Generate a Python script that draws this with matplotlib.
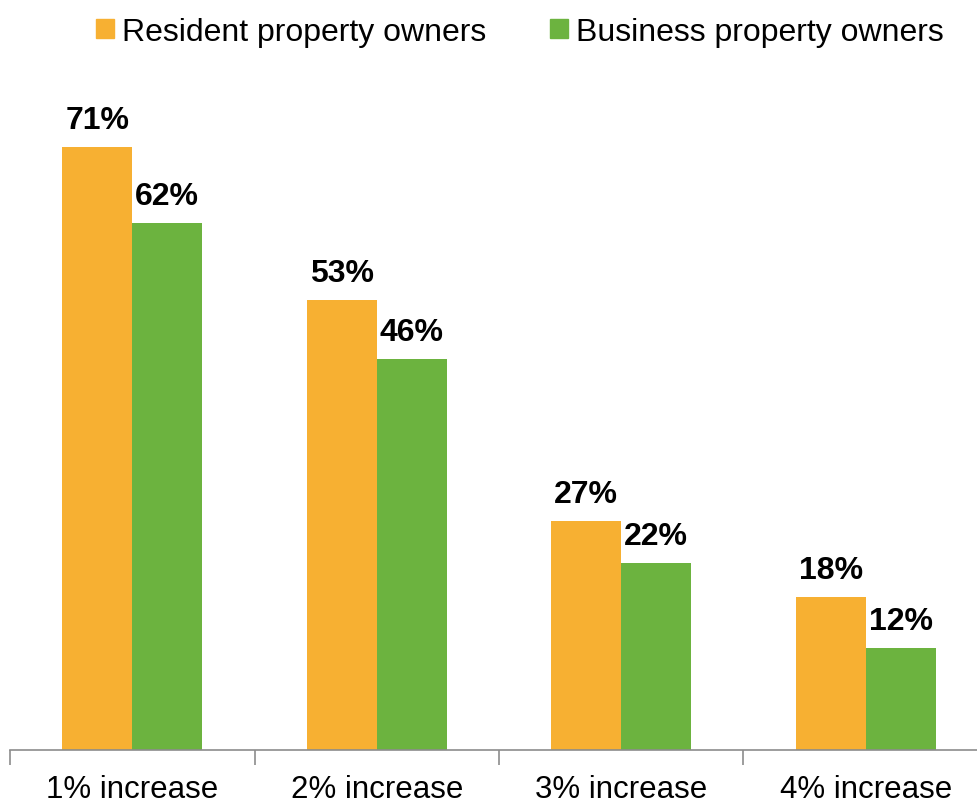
import numpy as np
import matplotlib.pyplot as plt
from matplotlib.patches import Patch

plt.rcParams['font.family'] = ['Liberation Sans', 'DejaVu Sans']

categories = ['1% increase', '2% increase', '3% increase', '4% increase']
resident = [71, 53, 27, 18]
business = [62, 46, 22, 12]
series_names = ['Resident property owners', 'Business property owners']

orange = '#F7B032'
green = '#6CB33F'

fig = plt.figure(figsize=(9.77, 8.03), dpi=100)
# axis spans slightly past the right edge of the figure
ax = fig.add_axes([10 / 977, 52 / 803, 978 / 977, 680 / 803])

x = np.arange(len(categories))
w = 0.286
ax.bar(x - w / 2, resident, w, color=orange)
ax.bar(x + w / 2, business, w, color=green)

for i in range(len(categories)):
    ax.text(x[i] - w / 2, resident[i] + 1.4, f'{resident[i]}%', ha='center', va='bottom',
            fontsize=23, fontweight='bold')
    ax.text(x[i] + w / 2, business[i] + 1.4, f'{business[i]}%', ha='center', va='bottom',
            fontsize=23, fontweight='bold')

ax.set_xlim(-0.5, len(categories) - 0.5)
ax.set_ylim(0, 80)
ax.set_yticks([])
for s in ['top', 'right', 'left']:
    ax.spines[s].set_visible(False)
ax.spines['bottom'].set_color('#8C8C8C')
ax.spines['bottom'].set_linewidth(1.2)

ax.set_xticks(np.arange(len(categories) + 1) - 0.5)
ax.set_xticklabels([])
ax.set_xticks(x, minor=True)
ax.set_xticklabels(categories, minor=True, fontsize=22.5)
ax.tick_params(axis='x', which='major', length=11, width=1.2, color='#8C8C8C')
ax.tick_params(axis='x', which='minor', length=0, pad=17)

handles = [Patch(color=orange), Patch(color=green)]
fig.legend(handles, series_names, loc='upper center', bbox_to_anchor=(0.532, 1.014),
           ncol=2, frameon=False, fontsize=23, handlelength=0.55, handleheight=0.55,
           handletextpad=0.25, columnspacing=2.0)

fig.savefig('out.png', dpi=100)
